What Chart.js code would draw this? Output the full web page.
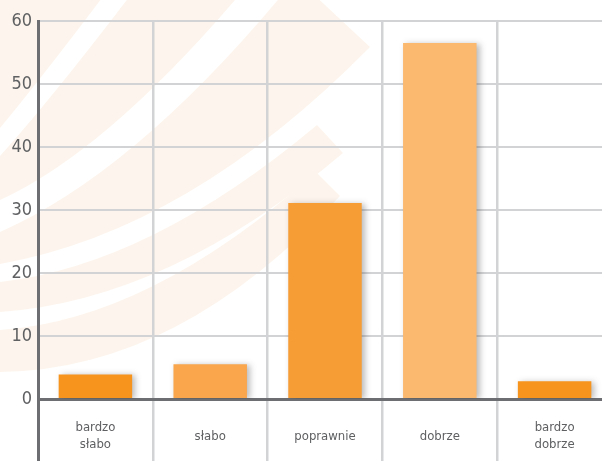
<!DOCTYPE html>
<html lang="pl">

<head>
    <meta charset="UTF-8">
    <meta name="viewport" content="width=device-width, initial-scale=1">
    <title>Oceny</title>
    <style>
        html, body {
            margin: 0;
            padding: 0;
            background: #fff;
        }

        .wrapper {
            position: absolute;
            left: 0;
            top: 0;
            width: 602px;
            height: 461px;
            overflow: hidden;
        }

        #chart {
            position: absolute;
            left: 0;
            top: 0;
        }
    </style>
</head>

<body>
    <div class="wrapper">
        <canvas id="chart" width="620" height="480"></canvas>
    </div>
    <script src="https://cdn.jsdelivr.net/npm/chart.js"></script>
    <script>
        const categories = [["bardzo", "słabo"], "słabo", "poprawnie", "dobrze", ["bardzo", "dobrze"]];
        const values = [3.9, 5.5, 31.1, 56.5, 2.8];
        const barColors = ["#f7941e", "#f9a64d", "#f79d35", "#fbb86f", "#f7941e"];
        const yMin = 0;
        const yMax = 60;
        const yStep = 10;

        const axisGray = "#6d6e71";
        const gridGray = "#d1d3d4";
        const font = "'DejaVu Sans Condensed', 'DejaVu Sans', sans-serif";

        // faint logo bands behind the grid
        const watermark = {
            id: "watermark",
            beforeDraw(chart) {
                const c = chart.ctx;
                c.save();
                c.fillStyle = "rgb(253, 245, 237)";
                const bands = [
                    [[0, 0], [108, -10], [40, 80], [0, 128]],
                    [[142, -20], [55, 95], [0, 156], [0, 200], [110, 150], [252, -20]],
                    [[0, 232], [140, 170], [296, -22], [370, 47], [190, 230], [0, 264]],
                    [[0, 282], [150, 265], [317, 125], [343, 153], [170, 300], [0, 312]],
                    [[0, 330], [150, 320], [316, 172], [340, 196], [180, 370], [0, 372]]
                ];
                // corner piece
                let b = bands[0];
                c.beginPath();
                c.moveTo(b[0][0], b[0][1]);
                c.lineTo(b[1][0], b[1][1]);
                c.quadraticCurveTo(b[2][0], b[2][1], b[3][0], b[3][1]);
                c.closePath();
                c.fill();
                // curved strips: outer edge, cut, inner edge back to the left
                for (let i = 1; i < bands.length; i++) {
                    b = bands[i];
                    c.beginPath();
                    c.moveTo(b[0][0], b[0][1]);
                    c.quadraticCurveTo(b[1][0], b[1][1], b[2][0], b[2][1]);
                    c.lineTo(b[3][0], b[3][1]);
                    c.quadraticCurveTo(b[4][0], b[4][1], b[5][0], b[5][1]);
                    c.closePath();
                    c.fill();
                }
                c.restore();
            }
        };

        // soft shadow on the right of each bar
        const barShadow = {
            id: "barShadow",
            beforeDatasetDraw(chart) {
                const c = chart.ctx;
                c.save();
                c.shadowColor = "rgba(60, 60, 60, 0.35)";
                c.shadowBlur = 6;
                c.shadowOffsetX = 3;
                c.shadowOffsetY = 1;
            },
            afterDatasetDraw(chart) {
                chart.ctx.restore();
            }
        };

        const ctx = document.getElementById("chart");

        const chart = new Chart(ctx, {
            type: "bar",
            data: {
                labels: categories,
                datasets: [{
                    data: values,
                    backgroundColor: barColors,
                    borderWidth: 0,
                    categoryPercentage: 1,
                    barPercentage: 0.64
                }]
            },
            options: {
                responsive: false,
                animation: false,
                layout: {
                    padding: { top: 21, right: 8, left: 0, bottom: 0 }
                },
                plugins: {
                    legend: { display: false },
                    tooltip: { enabled: false }
                },
                scales: {
                    x: {
                        grid: {
                            color: (c) => c.index === 0 ? axisGray : gridGray,
                            tickColor: (c) => c.index === 0 ? axisGray : gridGray,
                            lineWidth: (c) => c.index === 0 ? 3 : 2.5,
                            tickWidth: (c) => c.index === 0 ? 3 : 2.5,
                            tickLength: 81
                        },
                        border: { color: axisGray, width: 3 },
                        ticks: {
                            color: "#5f6062",
                            padding: -52,
                            crossAlign: "center",
                            maxRotation: 0,
                            font: { family: font, size: 13, lineHeight: 1.3 }
                        },
                        afterFit(scale) {
                            scale.height = 81;
                        }
                    },
                    y: {
                        min: yMin,
                        max: yMax,
                        grid: {
                            color: gridGray,
                            lineWidth: 2,
                            drawTicks: false
                        },
                        border: { color: axisGray, width: 3 },
                        ticks: {
                            stepSize: yStep,
                            color: "#5f6062",
                            padding: 6,
                            font: { family: font, size: 18 }
                        },
                        afterFit(scale) {
                            scale.width = 38;
                        }
                    }
                }
            },
            plugins: [watermark, barShadow]
        });
    </script>
</body>

</html>
